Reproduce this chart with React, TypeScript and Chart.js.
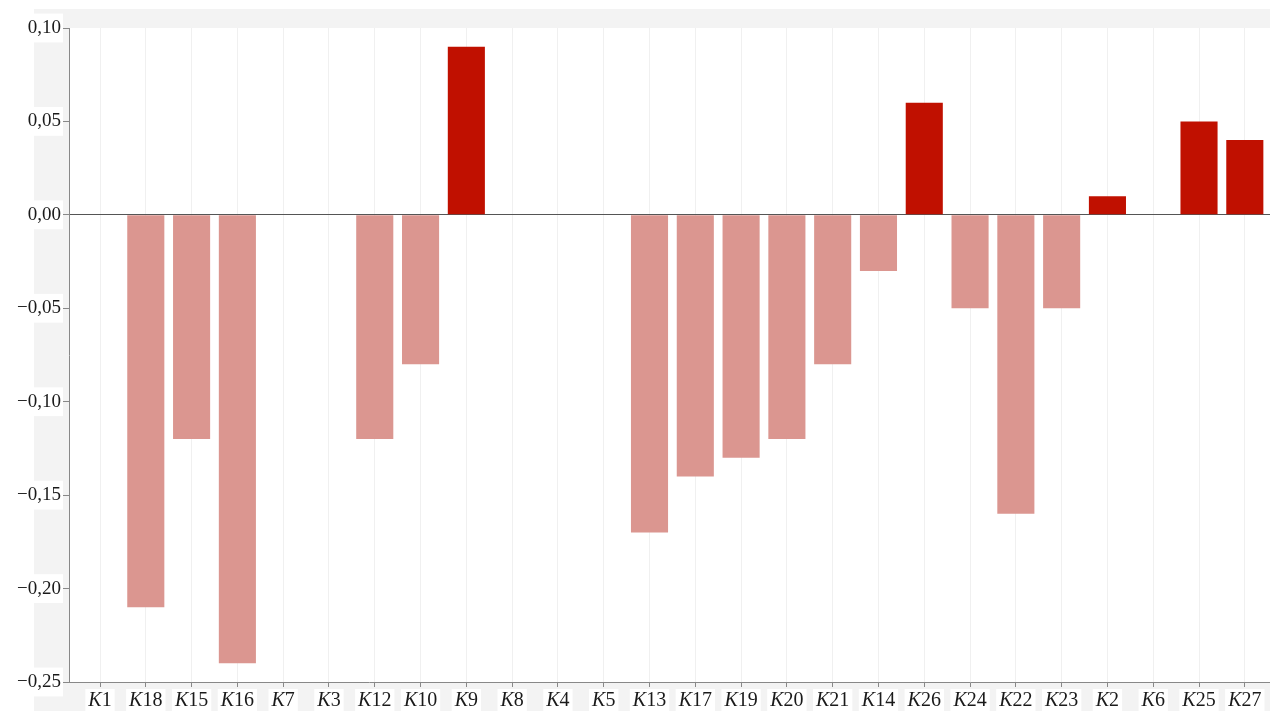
import React, { useEffect, useRef } from "react";
import { Chart, registerables } from "chart.js";

Chart.register(...registerables);

const categories: string[] = [
  "1", "18", "15", "16", "7", "3", "12", "10", "9", "8", "4", "5", "13",
  "17", "19", "20", "21", "14", "26", "24", "22", "23", "2", "6", "25", "27",
];
const labelPrefix = "K";
const values: number[] = [
  0, -0.21, -0.12, -0.24, 0, 0, -0.12, -0.08, 0.09, 0, 0, 0, -0.17,
  -0.14, -0.13, -0.12, -0.08, -0.03, 0.06, -0.05, -0.16, -0.05, 0.01, 0, 0.05, 0.04,
];
const yTicks: number[] = [-0.25, -0.2, -0.15, -0.1, -0.05, 0, 0.05, 0.1];

const POS = "rgb(192,16,0)";
const NEG = "rgb(219,150,144)";
const FONT = "'Liberation Serif', 'Times New Roman', serif";

function fmt(v: number): string {
  const s = Math.abs(v).toFixed(2).replace(".", ",");
  return v < -1e-9 ? "\u2212" + s : s;
}

const bgPlugin = {
  id: "bgPlugin",
  beforeDraw(chart: any) {
    const { ctx, chartArea, width, height } = chart;
    ctx.save();
    ctx.fillStyle = "#f3f3f3";
    ctx.fillRect(34, 9, width - 34, height - 9);
    ctx.fillStyle = "#ffffff";
    ctx.fillRect(chartArea.left, chartArea.top, chartArea.right - chartArea.left, chartArea.bottom - chartArea.top);
    ctx.restore();
  },
  afterDraw(chart: any) {
    const { ctx } = chart;
    const xs = chart.scales.x;
    ctx.save();
    ctx.textBaseline = "alphabetic";
    const size = 20;
    const italic = `italic ${size}px ${FONT}`;
    const normal = `${size}px ${FONT}`;
    const baseY = 706;
    categories.forEach((c, i) => {
      const x = xs.getPixelForValue(i);
      ctx.font = italic;
      const wk = ctx.measureText(labelPrefix).width;
      ctx.font = normal;
      const wn = ctx.measureText(c).width;
      const total = wk + wn;
      const left = x - total / 2;
      ctx.fillStyle = "#ffffff";
      ctx.fillRect(left - 3, 689, total + 6, 711 - 689);
      ctx.fillStyle = "#1a1a1a";
      ctx.font = italic;
      ctx.textAlign = "left";
      ctx.fillText(labelPrefix, left, baseY);
      ctx.font = normal;
      ctx.fillText(c, left + wk, baseY);
    });
    ctx.restore();
  },
};

export default function App() {
  const ref = useRef<HTMLCanvasElement | null>(null);
  useEffect(() => {
    if (!ref.current) return;
    const chart = new Chart(ref.current, {
      type: "bar",
      data: {
        datasets: [
          {
            data: values.map((v, i) => ({ x: i, y: v })),
            backgroundColor: values.map((v) => (v >= 0 ? POS : NEG)),
            borderWidth: 0,
            categoryPercentage: 1,
            barPercentage: 0.81,
          },
        ],
      },
      options: {
        animation: false,
        responsive: false,
        maintainAspectRatio: false,
        layout: { padding: { top: 28, right: 0, left: 0, bottom: 0 } },
        plugins: { legend: { display: false }, tooltip: { enabled: false }, title: { display: false } },
        scales: {
          x: {
            type: "linear",
            offset: false,
            min: -0.677,
            max: 25.55,
            afterBuildTicks: (scale: any) => {
              scale.ticks = categories.map((_, i) => ({ value: i }));
            },
            afterFit: (scale: any) => {
              scale.height = 29;
            },
            ticks: { display: false },
            grid: {
              offset: false,
              color: "#f0f0f0",
              lineWidth: 1,
              drawTicks: true,
              tickLength: 5,
              tickColor: "#888888",
            },
            border: { display: true, color: "#888888", width: 1 },
          },
          y: {
            min: -0.25,
            max: 0.1,
            afterBuildTicks: (scale: any) => {
              scale.ticks = yTicks.map((v) => ({ value: v }));
            },
            afterFit: (scale: any) => {
              scale.width = 69;
            },
            ticks: {
              callback: (v: any) => fmt(Number(v)),
              font: { family: FONT, size: 19 },
              color: "#1a1a1a",
              padding: 2,
              showLabelBackdrop: true,
              backdropColor: "#ffffff",
              backdropPadding: { top: 3, bottom: 3, left: 2, right: 2 },
            } as any,
            grid: {
              color: (c: any) => (c.tick && Math.abs(c.tick.value) < 1e-9 ? "#555555" : "transparent"),
              lineWidth: 1,
              drawTicks: true,
              tickLength: 6,
              tickColor: "#888888",
            },
            border: { display: true, color: "#888888", width: 1 },
          },
        },
      },
      plugins: [bgPlugin],
    } as any);
    return () => chart.destroy();
  }, []);
  return (
    <div style={{ position: "absolute", left: 0, top: 0, width: 1270, height: 711 }}>
      <canvas ref={ref} width={1270} height={711} style={{ display: "block" }} />
    </div>
  );
}
